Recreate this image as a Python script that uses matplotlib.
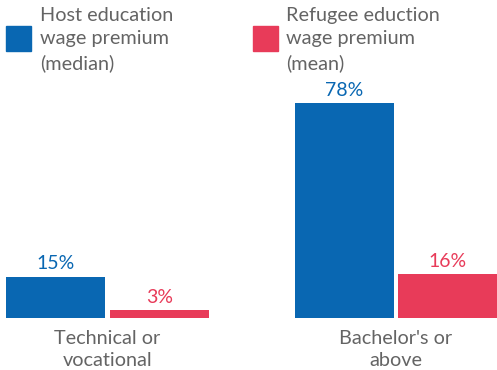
import numpy as np
import matplotlib.pyplot as plt
from matplotlib.patches import Rectangle

plt.rcParams['font.family'] = ['Lato', 'DejaVu Sans']
plt.rcParams['font.size'] = 14.3

categories = ["Technical or\nvocational", "Bachelor's or\nabove"]
host_median = [15, 78]
refugee_mean = [3, 16]
series_names = ["Host education\nwage premium\n(median)",
                "Refugee eduction\nwage premium\n(mean)"]

blue = '#0967b2'
red = '#e83b59'
grey = '#646464'

W, H = 497, 370
fig = plt.figure(figsize=(W / 100, H / 100), dpi=100)
ax = fig.add_axes([0, 52 / H, 1, 1 - 52 / H])

x = np.arange(len(categories))
width = 0.343
off = 0.18
b1 = ax.bar(x - off, host_median, width, color=blue)
b2 = ax.bar(x + off, refugee_mean, width, color=red)

for bars, vals, col in [(b1, host_median, blue), (b2, refugee_mean, red)]:
    for rect, v in zip(bars, vals):
        ax.annotate(f'{v}%', (rect.get_x() + rect.get_width() / 2, v),
                    xytext=(0, 3), textcoords='offset points',
                    ha='center', va='bottom', color=col, fontsize=14)

ax.set_xlim(-0.3726, 1.350)
ax.set_ylim(0, 115.4)
ax.set_xticks(x)
ax.set_xticklabels(categories, color=grey, linespacing=1.3)
ax.tick_params(axis='x', length=0, pad=9)
ax.set_yticks([])
for s in ax.spines.values():
    s.set_visible(False)

# legend drawn by hand: square + three-line label
for (px, tx), name, col in zip([(6, 40), (253, 286)], series_names, [blue, red]):
    fig.patches.append(Rectangle((px / W, 1 - 51 / H), 25 / W, 25 / H,
                                 transform=fig.transFigure, color=col))
    fig.text(tx / W, 1 - 7 / H, name, ha='left', va='top', color=grey,
             linespacing=1.45)

fig.savefig('out.png', dpi=100)
